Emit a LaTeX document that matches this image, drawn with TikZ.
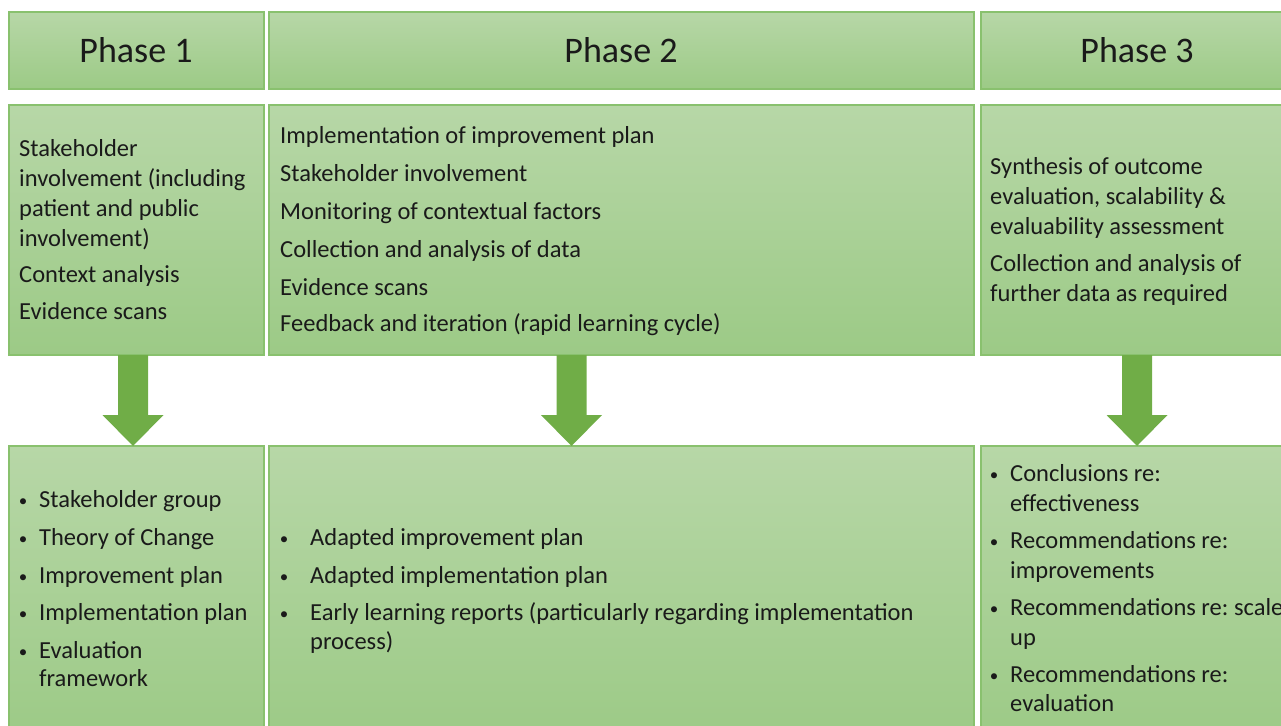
\documentclass[tikz,border=0pt]{standalone}
\usepackage{fontspec}
\setmainfont{Carlito}
\frenchspacing
\definecolor{boxtop}{RGB}{183,215,167}
\definecolor{boxbot}{RGB}{156,202,134}
\definecolor{boxline}{RGB}{137,193,110}
\definecolor{arrowgreen}{RGB}{112,173,71}
\definecolor{ink}{RGB}{26,26,26}
\tikzset{
  panel/.style={draw=boxline, line width=1.2pt, top color=boxtop, bottom color=boxbot},
  headtxt/.style={font=\fontsize{36}{40}\selectfont, text=ink, inner sep=0pt, anchor=base},
  bodytxt/.style={font=\fontsize{24.5}{29}\selectfont, text=ink, inner sep=0pt, anchor=base west},
  dot/.style={font=\fontsize{17}{20}\selectfont, text=ink, inner sep=0pt, anchor=base},
  flowarrow/.style={fill=arrowgreen, draw=none},
}
\begin{document}
\begin{tikzpicture}[x=1pt,y=-1pt]
\useasboundingbox (0,0) rectangle (1281,725);
\clip (0,0) rectangle (1281,725);

% header row
\draw[panel] (9,12) rectangle (264,89);
\draw[panel] (269,12) rectangle (974,89);
\draw[panel] (981,12) rectangle (1293,89);
\node[headtxt] (h1) at (136,63) {Phase 1};
\node[headtxt] (h2) at (621,63) {Phase 2};
\node[headtxt] (h3) at (1137,63) {Phase 3};

% activity row
\draw[panel] (9,105) rectangle (264,355);
\draw[panel] (269,105) rectangle (974,355);
\draw[panel] (981,105) rectangle (1300,355);

% output row
\draw[panel] (9,446) rectangle (264,740);
\draw[panel] (269,446) rectangle (974,740);
\draw[panel] (981,446) rectangle (1300,740);

% block arrows between the rows
\foreach \cx in {133, 571.5, 1137}{
  \fill[flowarrow] (\cx-15,355) -- (\cx+15,355) -- (\cx+15,415) -- (\cx+30.5,415)
     -- (\cx,446) -- (\cx-30.5,415) -- (\cx-15,415) -- cycle;
}

% phase 1 activities
\foreach \y/\t [count=\i] in {156/Stakeholder, 186/involvement (including, 216/patient and public,
   246/involvement), 282/Context analysis, 319/Evidence scans}{
  \node[bodytxt] (m1-\i) at (19,\y) {\t};
}

% phase 2 activities
\foreach \y/\t [count=\i] in {143/Implementation of improvement plan, 181/Stakeholder involvement,
   219/Monitoring of contextual factors, 257/Collection and analysis of data,
   295/Evidence scans, 331/Feedback and iteration (rapid learning cycle)}{
  \node[bodytxt] (m2-\i) at (280,\y) {\t};
}

% phase 3 activities
\foreach \y/\t [count=\i] in {174/Synthesis of outcome, 204/{evaluation, scalability \&},
   234/evaluability assessment, 271/Collection and analysis of, 301/further data as required}{
  \node[bodytxt] (m3-\i) at (990,\y) {\t};
}

% phase 1 outputs
\foreach \y [count=\i] in {507,545,583,620,658}{
  \node[dot] (b1-\i) at (23,\y-1) {\textbullet};
}
\foreach \y/\t [count=\i] in {507/Stakeholder group, 545/Theory of Change, 583/Improvement plan,
   620/Implementation plan, 658/Evaluation, 686/framework}{
  \node[bodytxt] (o1-\i) at (39,\y) {\t};
}

% phase 2 outputs
\foreach \y [count=\i] in {545,583,620}{
  \node[dot] (b2-\i) at (284,\y-1) {\textbullet};
}
\foreach \y/\t [count=\i] in {545/Adapted improvement plan, 583/Adapted implementation plan,
   620/Early learning reports (particularly regarding implementation, 649/process)}{
  \node[bodytxt] (o2-\i) at (310,\y) {\t};
}

% phase 3 outputs
\foreach \y [count=\i] in {481,548,615,682}{
  \node[dot] (b3-\i) at (994,\y-1) {\textbullet};
}
\foreach \y/\t [count=\i] in {481/Conclusions re:, 511/effectiveness, 548/Recommendations re:,
   578/improvements, 615/Recommendations re: scale, 645/up, 682/Recommendations re:, 711/evaluation}{
  \node[bodytxt] (o3-\i) at (1010,\y) {\t};
}
\end{tikzpicture}
\end{document}
